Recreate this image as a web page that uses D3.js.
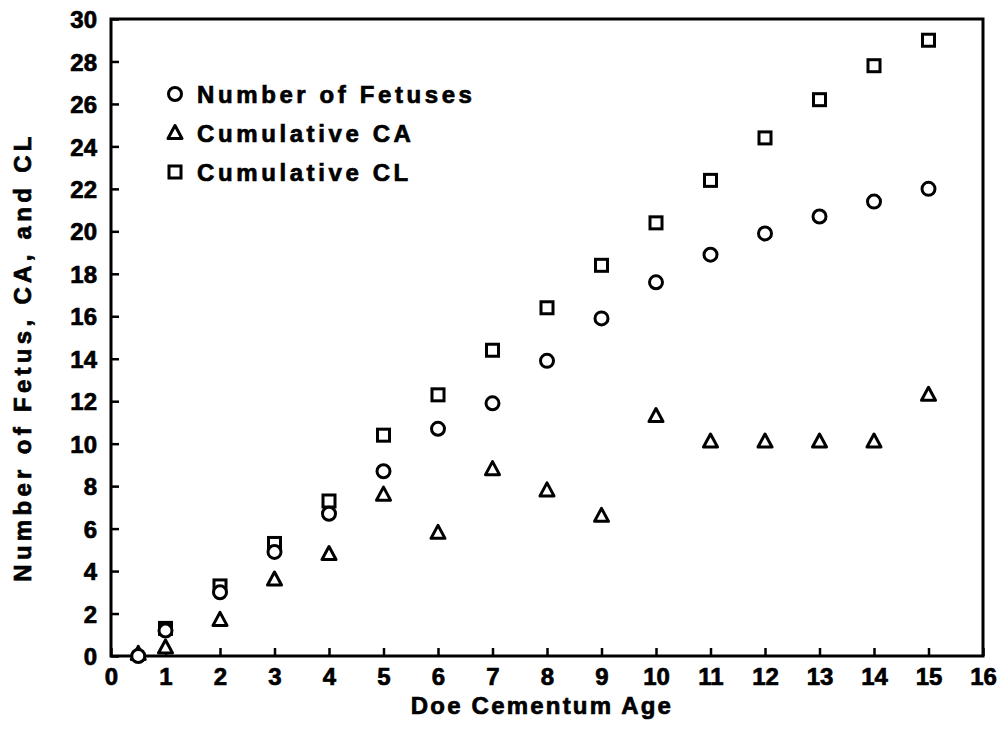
<!DOCTYPE html>
<html>
<head>
<meta charset="utf-8">
<script src="https://cdn.jsdelivr.net/npm/d3@7"></script>
<style>
  html, body { margin: 0; padding: 0; background: #fff; }
  svg { display: block; }
  text { font-family: "Liberation Sans", Arial, sans-serif; font-weight: bold; fill: #000; stroke: #000; stroke-width: 0.7px; }
</style>
</head>
<body>
<div id="chart"></div>
<script>
// ---- data ----
const ageFetuses = [0.5, 1, 2, 3, 4, 5, 6, 7, 8, 9, 10, 11, 12, 13, 14, 15];
const numFetuses = [0, 1.2, 3.0, 4.9, 6.7, 8.7, 10.7, 11.9, 13.9, 15.9, 17.6, 18.9, 19.9, 20.7, 21.4, 22.0];

const ageCA = [0.5, 1, 2, 3, 4, 5, 6, 7, 8, 9, 10, 11, 12, 13, 14, 15];
const cumCA = [0.1, 0.4, 1.7, 3.6, 4.8, 7.6, 5.8, 8.8, 7.8, 6.6, 11.3, 10.1, 10.1, 10.1, 10.1, 12.3];

const ageCL = [1, 2, 3, 4, 5, 6, 7, 8, 9, 10, 11, 12, 13, 14, 15];
const cumCL = [1.3, 3.3, 5.3, 7.3, 10.4, 12.3, 14.4, 16.4, 18.4, 20.4, 22.4, 24.4, 26.2, 27.8, 29.0];

const xTicks = [0, 1, 2, 3, 4, 5, 6, 7, 8, 9, 10, 11, 12, 13, 14, 15, 16];
const yTicks = [0, 2, 4, 6, 8, 10, 12, 14, 16, 18, 20, 22, 24, 26, 28, 30];

const legendLabels = ["Number of Fetuses", "Cumulative CA", "Cumulative CL"];
const xTitle = "Doe Cementum Age";
const yTitle = "Number of Fetus, CA, and CL";

// ---- layout ----
const W = 1001, H = 732;
const mLeft = 111, mRight = 983, mTop = 19, mBottom = 656;

const svg = d3.select("#chart").append("svg").attr("width", W).attr("height", H);

const x = d3.scaleLinear().domain([0, 16]).range([mLeft, mRight]);
const y = d3.scaleLinear().domain([0, 30]).range([mBottom, mTop]);

// frame
svg.append("rect")
  .attr("x", mLeft).attr("y", mTop)
  .attr("width", mRight - mLeft).attr("height", mBottom - mTop)
  .attr("fill", "none").attr("stroke", "#000").attr("stroke-width", 3);

// y axis
const yAxis = d3.axisLeft(y).tickValues(yTicks).tickSize(-8).tickPadding(14).tickFormat(d3.format("d"));
const gy = svg.append("g").attr("transform", `translate(${mLeft},0)`).call(yAxis);
gy.select(".domain").remove();
gy.selectAll(".tick line").attr("stroke", "#000").attr("stroke-width", 2.5);
gy.selectAll(".tick text").attr("font-size", 24).attr("font-family", "Liberation Sans").attr("font-weight", "bold").attr("dy", "0.36em").attr("x", -14);

// x axis
const xAxis = d3.axisBottom(x).tickValues(xTicks).tickSize(-8).tickPadding(14).tickFormat(d3.format("d"));
const gx = svg.append("g").attr("transform", `translate(0,${mBottom})`).call(xAxis);
gx.select(".domain").remove();
gx.selectAll(".tick line").attr("stroke", "#000").attr("stroke-width", 2.5);
gx.selectAll(".tick text").attr("font-size", 24).attr("font-family", "Liberation Sans").attr("font-weight", "bold").attr("y", 12);

// axis titles
svg.append("text")
  .attr("x", (mLeft + mRight) / 2 - 5).attr("y", 705)
  .attr("text-anchor", "middle").attr("dy", "0.36em")
  .attr("font-size", 24).style("letter-spacing", "2.2px")
  .text(xTitle);

svg.append("text")
  .attr("transform", `translate(22,${357}) rotate(-90)`)
  .attr("text-anchor", "middle").attr("dy", "0.36em")
  .attr("font-size", 24).style("letter-spacing", "4.3px")
  .text(yTitle);

// ---- markers ----
const sw = 3;
function square(g, cx, cy) {
  g.append("rect").attr("x", cx - 6).attr("y", cy - 6).attr("width", 12).attr("height", 12)
    .attr("fill", "#fff").attr("stroke", "#000").attr("stroke-width", sw);
}
function triangle(g, cx, cy) {
  const p = d3.path();
  p.moveTo(cx, cy - 7.5); p.lineTo(cx + 7, cy + 5.5); p.lineTo(cx - 7, cy + 5.5); p.closePath();
  g.append("path").attr("d", p.toString())
    .attr("fill", "#fff").attr("stroke", "#000").attr("stroke-width", sw).attr("stroke-linejoin", "round");
}
function circle(g, cx, cy) {
  g.append("circle").attr("cx", cx).attr("cy", cy).attr("r", 6.5)
    .attr("fill", "#fff").attr("stroke", "#000").attr("stroke-width", sw);
}

const gPts = svg.append("g");
ageCL.forEach((a, i) => square(gPts, x(a), y(cumCL[i])));
ageCA.forEach((a, i) => triangle(gPts, x(a), y(cumCA[i])));
ageFetuses.forEach((a, i) => circle(gPts, x(a), y(numFetuses[i])));

// ---- legend ----
const legendY = [94, 133, 172];
const gl = svg.append("g");
circle(gl, 175, legendY[0]);
triangle(gl, 175, legendY[1]);
square(gl, 175, legendY[2]);
legendLabels.forEach((t, i) => {
  gl.append("text").attr("x", 197).attr("y", legendY[i]).attr("dy", "0.36em")
    .attr("font-size", 24).style("letter-spacing", "3.6px").text(t);
});
</script>
</body>
</html>
